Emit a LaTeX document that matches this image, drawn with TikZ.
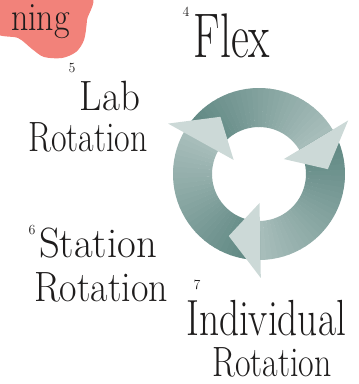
\documentclass[tikz,border=0pt]{standalone}
\definecolor{ringdark}{RGB}{92,133,128}
\definecolor{ringlight}{RGB}{204,217,215}
\definecolor{blobpink}{RGB}{242,130,122}
\definecolor{ink}{RGB}{30,28,28}
\tikzset{
  hand/.style={font=\fontsize{34}{34}\selectfont, text=ink, inner sep=0pt, yscale=1.25, transform shape},
  num/.style={font=\fontsize{14}{14}\selectfont, text=ink, inner sep=0pt},
}
\begin{document}
\begin{tikzpicture}[x=1bp,y=1bp]
\useasboundingbox (0,0) rectangle (359,384);
% pink blob with the cut word
\fill[blobpink] plot[smooth cycle] coordinates {(-5,390) (88,390) (87,364) (84,344) (76,332) (62,326) (44,327) (32,335) (18,346) (-5,352)};
\node[hand, anchor=base east, yscale=0.95] (ning) at (70,354) {ning};
% ring of three arrows
\begin{scope}[shift={(259,210)}]
\foreach \k in {0,1,2}{
  \pgfmathsetmacro\a{151-120*\k}
  \foreach \i in {0,...,29}{
    \pgfmathsetmacro\s{\a-4*\i}
    \pgfmathsetmacro\e{\a-4*\i-4.4}
    \pgfmathsetmacro\p{100-2.3*\i}
    \fill[ringdark!\p!ringlight] (\s:86) arc[start angle=\s,end angle=\e,radius=86]
      -- (\e:47) arc[start angle=\e,end angle=\s,radius=47] -- cycle;
  }
}
\foreach \k in {0,1,2}{
  \pgfmathsetmacro\b{31-120*\k}
  \pgfmathsetmacro\t{4-120*\k}
  \fill[ringlight] (\b:104) -- (\t:69) -- (\b:29) -- cycle;
}
\end{scope}
% labels
\node[num] (n4) at (186,372) {4};
\node[hand, font=\fontsize{44}{44}\selectfont, yscale=1.15] (flex) at (232,348) {Flex};
\node[num] (n5) at (72,316) {5};
\node[hand, xscale=1.15] (lab) at (110,288) {Lab};
\node[hand] (labrot) at (88,247) {Rotation};
\node[num] (n6) at (32,154) {6};
\node[hand, xscale=1.2] (station) at (98,141) {Station};
\node[hand, xscale=1.12] (stationrot) at (101,97) {Rotation};
\node[num] (n7) at (197,99) {7};
\node[hand, xscale=1.16, yscale=1.2] (indiv) at (266,66) {Individual};
\node[hand] (indivrot) at (272,22) {Rotation};
\end{tikzpicture}
\end{document}
